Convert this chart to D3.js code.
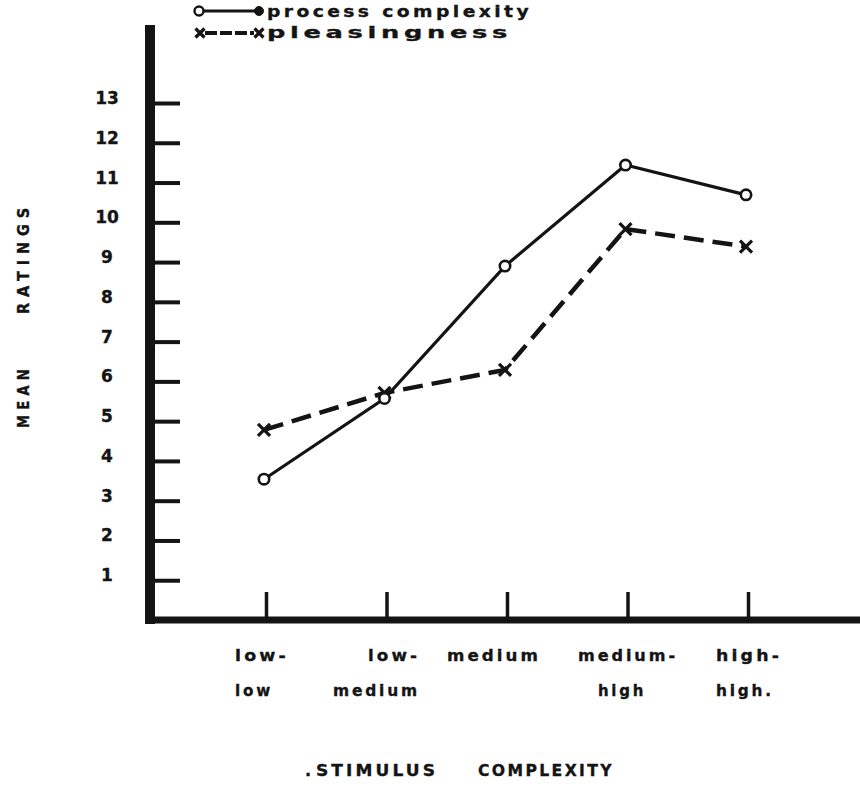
<!DOCTYPE html>
<html>
<head>
<meta charset="utf-8">
<script src="https://cdn.jsdelivr.net/npm/d3@7"></script>
<style>
  html, body { margin: 0; padding: 0; background: #fff; }
  svg { display: block; }
  text { font-family: "DejaVu Sans", "Liberation Sans", Arial, sans-serif; font-weight: bold; fill: #141414; stroke: #141414; stroke-width: 0.35px; }
</style>
</head>
<body>
<svg id="chart" width="860" height="786"></svg>
<script>
// ---- data ----
const categories = ["low-low", "low-medium", "medium", "medium-high", "high-high"];
const categoryLines = [["low-", "low"], ["low-", "medium"], ["medium", ""], ["medium-", "high"], ["high-", "high."]];
const processComplexity = [3.54, 5.57, 8.9, 11.44, 10.69];
const pleasingness = [4.78, 5.71, 6.29, 9.83, 9.39];
const yTicks = [1, 2, 3, 4, 5, 6, 7, 8, 9, 10, 11, 12, 13];
const seriesNames = ["process complexity", "pleasingness"];

// ---- layout ----
const svg = d3.select("#chart");
const ink = "#141414";
const x = d3.scalePoint().domain(categories).range([264, 746]);
const y = d3.scaleLinear().domain([0, 13]).range([620, 103]);

const fitText = (sel, len, ls) => sel.attr("letter-spacing", ls)
  .attr("textLength", len).attr("lengthAdjust", "spacingAndGlyphs");

// y axis spine
svg.append("line").attr("x1", 150).attr("x2", 150).attr("y1", 25).attr("y2", 624)
  .attr("stroke", ink).attr("stroke-width", 10);
// x axis spine
svg.append("line").attr("x1", 145).attr("x2", 860).attr("y1", y(0)).attr("y2", y(0))
  .attr("stroke", ink).attr("stroke-width", 7);

// y ticks via d3 axis
const yAxis = d3.axisRight(y).tickValues(yTicks).tickSize(25).tickFormat("");
const yg = svg.append("g").attr("transform", "translate(155,0)").call(yAxis);
yg.select(".domain").remove();
yg.selectAll(".tick line").attr("stroke", ink).attr("stroke-width", 4);

// y tick labels
svg.append("g").selectAll("text").data(yTicks).join("text")
  .attr("x", 107).attr("y", d => y(d) + 1)
  .attr("text-anchor", "middle")
  .attr("font-size", 17)
  .text(d => d);

// x ticks via d3 axis
const xAxis = d3.axisTop(x).tickSize(25).tickFormat("");
const xg = svg.append("g").attr("transform", `translate(2,${y(0) - 3})`).call(xAxis);
xg.select(".domain").remove();
xg.selectAll(".tick line").attr("stroke", ink).attr("stroke-width", 3.5);

// x category labels: [left x, width] per line (layout only)
const labelBoxes = [
  [[235, 54], [235, 38]],
  [[368, 52], [333, 87]],
  [[447, 94], null],
  [[578, 100], [598, 48]],
  [[716, 66], [716, 58]]
];
categories.forEach((c, i) => {
  categoryLines[i].forEach((t, r) => {
    const box = labelBoxes[i][r];
    if (!t || !box) return;
    const tx = svg.append("text")
      .attr("x", box[0])
      .attr("y", r === 0 ? 661 : 696)
      .attr("font-size", 16.5)
      .text(t);
    fitText(tx, box[1], 3);
  });
});

// axis titles
svg.append("text").attr("x", 305).attr("y", 776).attr("font-size", 16).text(".");
fitText(svg.append("text").attr("x", 316).attr("y", 776).attr("font-size", 16.5).text("STIMULUS"), 122, 3);
fitText(svg.append("text").attr("x", 478).attr("y", 776).attr("font-size", 16.5).text("COMPLEXITY"), 136, 2.5);

const yTitle = svg.append("g").attr("transform", "translate(29,0) rotate(-90)");
fitText(yTitle.append("text").attr("x", -314).attr("y", 0).attr("font-size", 15).text("RATINGS"), 112, 6);
fitText(yTitle.append("text").attr("x", -428).attr("y", 0).attr("font-size", 15).text("MEAN"), 64, 6);

// ---- series ----
const line = d3.line().x((d, i) => x(categories[i])).y(d => y(d));

svg.append("path").datum(pleasingness).attr("d", line)
  .attr("fill", "none").attr("stroke", ink).attr("stroke-width", 4.5)
  .attr("stroke-dasharray", "20,9");

svg.append("path").datum(processComplexity).attr("d", line)
  .attr("fill", "none").attr("stroke", ink).attr("stroke-width", 3.2);

// x markers
const xMark = (g, cx, cy, s) => {
  g.append("path")
    .attr("d", `M${cx - s},${cy - s}L${cx + s},${cy + s}M${cx - s},${cy + s}L${cx + s},${cy - s}`)
    .attr("stroke", ink).attr("stroke-width", 3.2).attr("fill", "none");
};
const pm = svg.append("g");
pleasingness.forEach((v, i) => xMark(pm, x(categories[i]), y(v), 6));

svg.append("g").selectAll("circle").data(processComplexity).join("circle")
  .attr("cx", (d, i) => x(categories[i])).attr("cy", d => y(d)).attr("r", 5.2)
  .attr("fill", "#fff").attr("stroke", ink).attr("stroke-width", 2.6);

// ---- legend ----
const lg = svg.append("g");
lg.append("line").attr("x1", 197).attr("x2", 258).attr("y1", 11).attr("y2", 11)
  .attr("stroke", ink).attr("stroke-width", 3);
lg.append("circle").attr("cx", 199).attr("cy", 11).attr("r", 4.5)
  .attr("fill", "#fff").attr("stroke", ink).attr("stroke-width", 2.4);
lg.append("circle").attr("cx", 259).attr("cy", 11).attr("r", 4.5)
  .attr("fill", ink).attr("stroke", ink).attr("stroke-width", 1);
fitText(lg.append("text").attr("x", 267).attr("y", 17).attr("font-size", 16.5).text(seriesNames[0]), 265, 3);

lg.append("line").attr("x1", 205).attr("x2", 254).attr("y1", 33).attr("y2", 33)
  .attr("stroke", ink).attr("stroke-width", 4).attr("stroke-dasharray", "12,3");
xMark(lg, 200, 33, 4.5);
xMark(lg, 259, 33, 4.5);
fitText(lg.append("text").attr("x", 267).attr("y", 38).attr("font-size", 16.5).text(seriesNames[1]), 245, 3);
</script>
</body>
</html>
